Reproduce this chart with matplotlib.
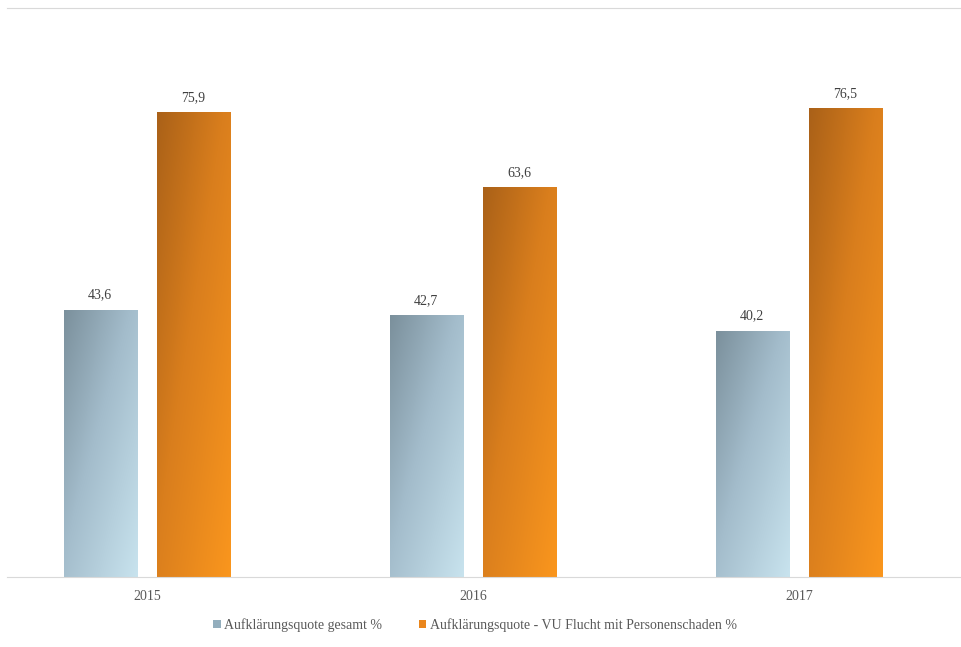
import numpy as np
import matplotlib
matplotlib.use("Agg")
import matplotlib.pyplot as plt
from matplotlib.colors import LinearSegmentedColormap
from matplotlib.patches import Patch

years = ["2015", "2016", "2017"]
gesamt = [43.6, 42.7, 40.2]
vu_flucht = [75.9, 63.6, 76.5]
series_names = ["Aufklärungsquote gesamt %",
                "Aufklärungsquote - VU Flucht mit Personenschaden %"]

plt.rcParams['font.family'] = ['Liberation Serif', 'DejaVu Serif']

blue_cmap = LinearSegmentedColormap.from_list(
    "b", [(0, "#7b909c"), (0.45, "#a3bccb"), (1, "#c8e3ee")])
orange_cmap = LinearSegmentedColormap.from_list(
    "o", [(0, "#aa6118"), (0.45, "#d97e1d"), (1, "#fa961e")])

fig = plt.figure(figsize=(9.62, 6.47), dpi=100)
ax = fig.add_axes([7/962, 70/647, 955/962, 569/647])

x = np.arange(len(years))
w = 0.224
off = 0.143

# diagonal gradient: dark top-left -> light bottom-right
gx, gy = np.meshgrid(np.linspace(0, 1, 64), np.linspace(0, 1, 128))
grad = 0.5 * gx + 0.5 * gy

def gradient_bars(bars, cmap):
    for b in bars:
        b.set_facecolor("none")
        b.set_edgecolor("none")
        x0, y0 = b.get_x(), b.get_y()
        x1, y1 = x0 + b.get_width(), y0 + b.get_height()
        # origin upper -> row 0 at top, dark top-left
        im = ax.imshow(grad, cmap=cmap, extent=(x0, x1, y0, y1), origin="upper",
                       aspect="auto", zorder=2, interpolation="bilinear")
        im.set_clip_path(b)

b1 = ax.bar(x - off, gesamt, w)
b2 = ax.bar(x + off, vu_flucht, w)
gradient_bars(b1, blue_cmap)
gradient_bars(b2, orange_cmap)

for bars, vals in ((b1, gesamt), (b2, vu_flucht)):
    for b, v in zip(bars, vals):
        ax.annotate(f"{v:.1f}".replace(".", ","),
                    (b.get_x() + b.get_width() / 2, v),
                    xytext=(0, 6), textcoords="offset points",
                    ha="center", va="bottom", fontsize=10, color="#404040")

ax.set_xlim(-0.429, 2.5)
ax.set_ylim(0, 92.9)
ax.set_yticks([])
ax.set_xticks(x)
ax.set_xticklabels(years, fontsize=10, color="#595959")
ax.tick_params(axis="x", length=0, pad=9)
for s in ("left", "right"):
    ax.spines[s].set_visible(False)
ax.spines["bottom"].set_color("#d9d9d9")
ax.spines["top"].set_color("#d9d9d9")

handles = [Patch(facecolor="#93aebd"), Patch(facecolor="#ea861c")]
fig.legend(handles, series_names, loc="center", bbox_to_anchor=(475/962, 1 - 625/647),
           ncol=2, frameon=False, fontsize=10, handlelength=0.55, handleheight=0.55,
           handletextpad=0.25, columnspacing=2.6, labelcolor="#595959")

fig.savefig("out.png", dpi=100)
